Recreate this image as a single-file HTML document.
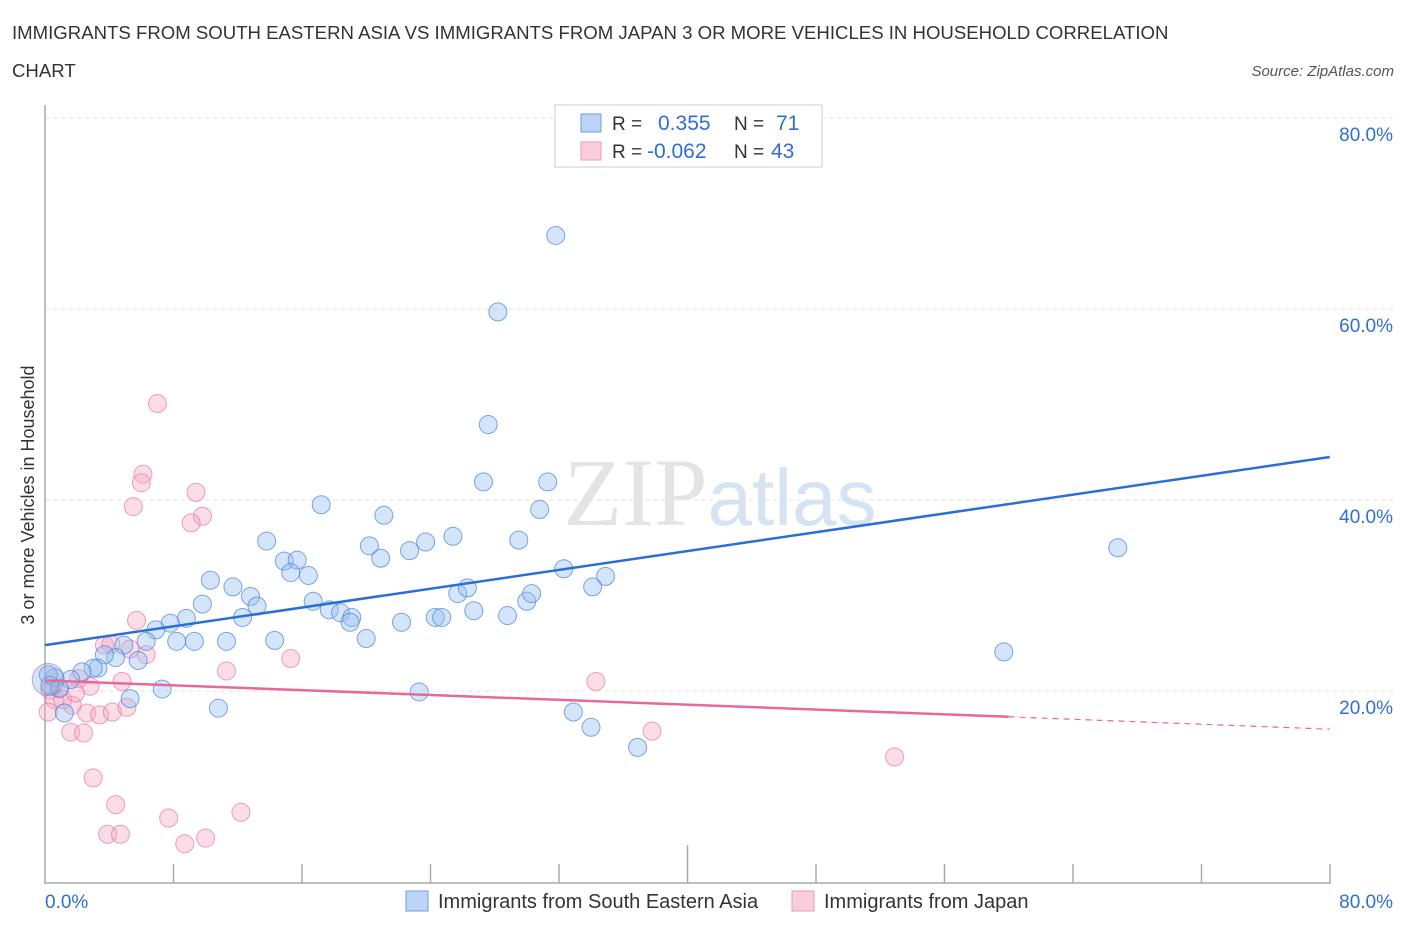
<!DOCTYPE html>
<html><head><meta charset="utf-8"><style>
body{margin:0;background:#fff;width:1406px;height:930px;overflow:hidden;font-family:"Liberation Sans",sans-serif;}
svg text{font-family:"Liberation Sans",sans-serif;}
</style></head><body>
<svg id="chart" width="1406" height="930">
<text x="12" y="39" font-size="18.6" fill="#333">IMMIGRANTS FROM SOUTH EASTERN ASIA VS IMMIGRANTS FROM JAPAN 3 OR MORE VEHICLES IN HOUSEHOLD CORRELATION</text>
<text x="12" y="77" font-size="18.6" fill="#333">CHART</text>
<text x="1394" y="76" font-size="15" fill="#555" font-style="italic" text-anchor="end">Source: ZipAtlas.com</text>
<text x="720" y="525" font-size="96" fill="#e4e4e4" text-anchor="middle" font-family="Liberation Serif"><tspan font-family="Liberation Serif">ZIP</tspan><tspan fill="#d6e3f3" font-size="80" font-family="Liberation Sans">atlas</tspan></text>
<g id="grid"></g><g id="axes"></g><g id="pts"></g><g id="lines"></g>
<text transform="translate(34,495) rotate(-90)" font-size="18" fill="#333" text-anchor="middle">3 or more Vehicles in Household</text>
<g>
<rect x="555" y="105" width="267" height="62" fill="#fff" stroke="#ccc"/>
<rect x="581" y="114" width="20" height="18" fill="#bcd4f5" stroke="#6f9de0"/>
<rect x="581" y="142" width="20" height="18" fill="#f9cddb" stroke="#ee9ab4"/>
<text x="612" y="130" font-size="19" fill="#333">R = </text><text x="658" y="130" font-size="21" fill="#2f6fd4">0.355</text>
<text x="734" y="130" font-size="19" fill="#333">N = </text><text x="776" y="130" font-size="21" fill="#2f6fd4">71</text>
<text x="612" y="158" font-size="19" fill="#333">R = </text><text x="647" y="158" font-size="21" fill="#2f6fd4">-0.062</text>
<text x="734" y="158" font-size="19" fill="#333">N = </text><text x="771" y="158" font-size="21" fill="#2f6fd4">43</text>
</g>
<g>
<rect x="406" y="891" width="22" height="20" fill="#bcd4f5" stroke="#6f9de0"/>
<text x="438" y="908" font-size="20" fill="#333">Immigrants from South Eastern Asia</text>
<rect x="792" y="891" width="22" height="20" fill="#f9cddb" stroke="#ee9ab4"/>
<text x="824" y="908" font-size="20" fill="#333">Immigrants from Japan</text>
</g>
</svg>
<script>
const blueX=[31.8,28.2,27.6,27.3,31.3,17.2,21.1,30.8,25.4,29.5,23.7,20.2,22.7,20.9,13.8,14.9,15.7,15.3,16.4,10.3,32.3,34.9,34.1,11.7,12.8,9.8,13.2,16.7,17.7,18.4,19.1,19.0,12.3,8.8,7.8,6.9,6.3,8.2,9.3,11.3,14.3,20.0,22.2,24.3,24.7,25.7,26.3,26.7,28.8,30.0,30.3,5.8,4.9,4.4,3.7,3.3,3.0,2.3,1.6,0.9,0.6,0.2,0.3,5.3,7.3,10.8,23.3,1.2,32.9,34.0,36.9,59.7,66.8];
const blueY=[67.7,59.7,47.9,41.9,41.9,39.5,38.4,39.0,36.2,35.8,35.6,35.2,34.7,33.9,35.7,33.6,33.7,32.4,32.1,31.6,32.8,32.0,30.9,30.9,29.9,29.1,28.9,29.4,28.5,28.2,27.7,27.2,27.7,27.6,27.1,26.4,25.2,25.2,25.2,25.2,25.3,25.5,27.2,27.7,27.7,30.2,30.8,28.4,27.9,29.4,30.2,23.2,24.8,23.5,23.8,22.4,22.4,22.0,21.2,20.3,21.4,21.7,20.6,19.2,20.2,18.2,19.9,17.7,17.8,16.2,14.1,24.1,35.0];
const pinkX=[7.0,6.1,6.0,9.4,5.5,9.8,9.1,5.7,3.7,4.1,5.3,6.3,11.3,15.3,34.3,4.8,2.8,2.1,0.9,0.3,0.6,0.2,1.7,2.6,3.4,4.2,5.1,1.6,2.4,3.0,4.4,3.9,4.7,7.7,12.2,10.0,8.7,37.8,52.9,1.1,1.9];
const pinkY=[50.1,42.7,41.8,40.8,39.3,38.3,37.6,27.4,24.8,24.9,24.4,23.8,22.1,23.4,21.0,21.0,20.5,21.3,20.2,20.1,19.1,17.8,18.5,17.7,17.5,17.8,18.3,15.7,15.6,10.9,8.1,5.0,5.0,6.7,7.3,4.6,4.0,15.8,13.1,19.1,19.8];
const yTicks=[20,40,60,80];
const blueTrend=[24.8,44.5];
const pinkTrend=[21.1,17.3,16.0];
const NS='http://www.w3.org/2000/svg';
const xs=v=>45+v*16.06, ys=v=>882-v*9.55;
function mk(t,a,p){const e=document.createElementNS(NS,t);for(const k in a)e.setAttribute(k,a[k]);p.appendChild(e);return e;}
const grid=document.getElementById('grid'),axes=document.getElementById('axes'),pts=document.getElementById('pts'),lines=document.getElementById('lines');
yTicks.forEach(t=>{
 const g=mk('line',{x1:45,x2:1395,y1:ys(t),y2:ys(t),stroke:'#e2e2e2','stroke-dasharray':'4,4'},grid);
 
 
 const l=mk('text',{x:1393,y:ys(t)+23,'font-size':19,fill:'#2f6fd4','text-anchor':'end'},axes);
 l.textContent=t.toFixed(1)+'%';
 
 
});
mk('line',{x1:45,x2:45,y1:105,y2:883,stroke:'#aaa','stroke-width':1.5},axes);
mk('line',{x1:44,x2:1331,y1:883,y2:883,stroke:'#aaa','stroke-width':1.5},axes);
for(let i=1;i<=10;i++){const x=45+i*128.5;mk('line',{x1:x,x2:x,y1:(i==5?845:864),y2:883,stroke:'#aaa','stroke-width':1.5},axes);}
const x0=mk('text',{x:45,y:908,'font-size':19,fill:'#2f6fd4'},axes);x0.textContent='0.0%';


const x1=mk('text',{x:1393,y:908,'font-size':19,fill:'#2f6fd4','text-anchor':'end'},axes);x1.textContent='80.0%';


pinkX.forEach((v,i)=>{const c=mk('circle',{cx:xs(v),cy:ys(pinkY[i]),r:9,fill:'rgba(246,170,195,0.4)',stroke:'rgba(232,120,155,0.7)','stroke-width':1},pts);
 
 });
blueX.forEach((v,i)=>{const c=mk('circle',{cx:xs(v),cy:ys(blueY[i]),r:9,fill:'rgba(150,190,240,0.4)',stroke:'rgba(70,130,215,0.7)','stroke-width':1},pts);
 
 });
const big=mk('circle',{cx:xs(0.2),cy:ys(21.2),r:16,fill:'rgba(150,170,220,0.35)',stroke:'rgba(90,120,200,0.5)'},pts);


const bl=mk('line',{x1:xs(0),y1:ys(blueTrend[0]),x2:xs(80),y2:ys(blueTrend[1]),stroke:'#2a6fd6','stroke-width':2.5},lines);


const pl=mk('line',{x1:xs(0),y1:ys(pinkTrend[0]),x2:xs(60),y2:ys(pinkTrend[1]),stroke:'#e8689a','stroke-width':2.5},lines);


const pd=mk('line',{x1:xs(60),y1:ys(pinkTrend[1]),x2:xs(80),y2:ys(pinkTrend[2]),stroke:'#e8689a','stroke-width':1.2,'stroke-dasharray':'6,5'},lines);


</script>
</body></html>
